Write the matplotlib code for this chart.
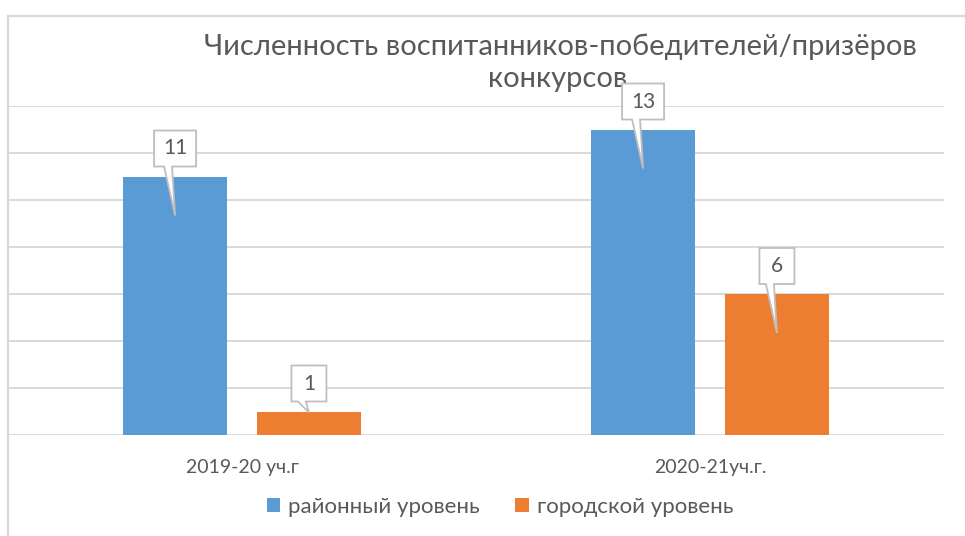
import matplotlib
matplotlib.use("Agg")
import matplotlib.pyplot as plt
import numpy as np
from matplotlib.patches import Polygon, Patch
from matplotlib.lines import Line2D

# ---- data ----
categories = ["2019-20 уч.г", "2020-21уч.г."]
series_names = ["районный уровень", "городской уровень"]
district = [11, 13]
city = [1, 6]
title_lines = ["Численность воспитанников-победителей/призёров", "конкурсов"]

# ---- style ----
BLUE = "#5B9BD5"
ORANGE = "#ED7D31"
GRID = "#D9D9D9"
TXT = "#595959"
FONT = ["Lato", "DejaVu Sans"]
plt.rcParams["font.family"] = FONT

W, H = 965, 536
fig = plt.figure(figsize=(W / 100, H / 100), dpi=100)
fig.patch.set_facecolor("white")

ax = fig.add_axes([8 / W, (H - 435) / H, (944 - 8) / W, (435 - 106) / H])
ax.set_xlim(-0.5, 1.5)
ax.set_ylim(0, 14)

x = np.arange(len(categories))
off = 0.143
bw = 0.224
ax.bar(x - off, district, width=bw, color=BLUE, zorder=2, label=series_names[0])
ax.bar(x + off, city, width=bw, color=ORANGE, zorder=2, label=series_names[1])

ax.set_yticks(np.arange(0, 15, 2))
ax.yaxis.grid(True, color=GRID, linewidth=1.4)
ax.set_axisbelow(True)
ax.tick_params(axis="y", left=False, labelleft=False)
ax.tick_params(axis="x", bottom=False, pad=14, labelsize=14, labelcolor=TXT)
ax.set_xticks(x)
ax.set_xticklabels(categories)
for s in ax.spines.values():
    s.set_visible(False)

# figure border (top and left edges)
fig.add_artist(Line2D([8 / W, 1.0], [(H - 16) / H, (H - 16) / H], color=GRID,
                      linewidth=1.6, transform=fig.transFigure))
fig.add_artist(Line2D([8 / W, 8 / W], [0, (H - 16) / H], color=GRID,
                      linewidth=1.6, transform=fig.transFigure))

# title (two lines, centred)
fig.text(560 / W, (H - 47) / H, title_lines[0], ha="center", va="center",
         fontsize=21, color=TXT)
fig.text(558 / W, (H - 79) / H, title_lines[1], ha="center", va="center",
         fontsize=21, color=TXT)

# callout data labels (drawn in pixel space)
def callout(xc, v):
    cx, top = ax.transData.transform((xc, v))
    _, base = ax.transData.transform((xc, 0))
    label = str(v)
    bwid = 42 if len(label) > 1 else 35
    bh = 36
    cy = top + 28
    L, R = cx - bwid / 2, cx + bwid / 2
    B, T = cy - bh / 2, cy + bh / 2
    depth = 39 if (top - base) > 60 else 1
    tip = (cx, top - depth)
    pts = [(L, B), (cx - 11, B), tip, (cx - 3, B), (R, B), (R, T), (L, T)]
    poly = Polygon(pts, closed=True, facecolor="white", edgecolor="#BFBFBF",
                   linewidth=1.3, transform=None, zorder=5)
    fig.add_artist(poly)
    fig.text(cx / W, cy / H, label, ha="center", va="center", fontsize=15,
             color=TXT, zorder=6)

for i in range(len(categories)):
    callout(x[i] - off, district[i])
    callout(x[i] + off, city[i])

handles = [Patch(facecolor=BLUE), Patch(facecolor=ORANGE)]
fig.legend(handles, series_names, loc="center", bbox_to_anchor=(500 / W, (H - 507) / H),
           ncol=2, frameon=False, fontsize=16, labelcolor=TXT, handlelength=0.62,
           handleheight=0.62, handletextpad=0.35, columnspacing=1.6)

fig.savefig("out.png", dpi=100)
